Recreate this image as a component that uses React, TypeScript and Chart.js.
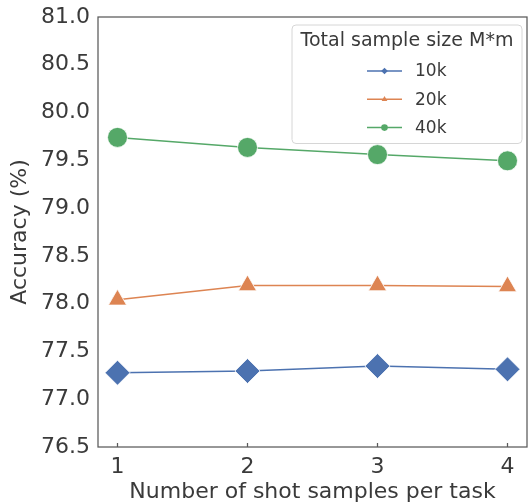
import React, { useEffect, useRef } from "react";
import { Chart, registerables } from "chart.js";
import { drawPoint } from "chart.js/helpers";

Chart.register(...registerables);

const xValues = [1, 2, 3, 4];
const xTicks = [1, 2, 3, 4];
const yTicksMin = 76.5;
const yTicksMax = 81.0;
const yStep = 0.5;

const seriesLabels = ["10k", "20k", "40k"];
const series10k = [77.277, 77.295, 77.347, 77.313];
const series20k = [78.04, 78.19, 78.19, 78.18];
const series40k = [79.74, 79.635, 79.56, 79.495];

const colors = ["#4C72B0", "#DD8452", "#55A868"];
const pointStyles = ["rectRot", "triangle", "circle"];
const pointRadii = [12.5, 10.5, 10];
const legendTitle = "Total sample size M*m";
const xTitle = "Number of shot samples per task";
const yTitle = "Accuracy (%)";

const FONT = "'DejaVu Sans', sans-serif";
const TEXT = "#3a3a3a";
const FRAME = "#5a5a5a";

export default function App() {
  const ref = useRef<HTMLCanvasElement | null>(null);

  useEffect(() => {
    document.body.style.margin = "0";
    const canvas = ref.current;
    if (!canvas) return;

    const allSeries = [series10k, series20k, series40k];

    const framePlugin = {
      id: "frame",
      beforeDatasetsDraw(chart: any) {
        const { ctx, chartArea } = chart;
        const a = chartArea;
        ctx.save();
        ctx.strokeStyle = FRAME;
        ctx.lineWidth = 1.25;
        ctx.strokeRect(a.left, a.top, a.right - a.left, a.bottom - a.top);
        const xs = chart.scales.x;
        ctx.beginPath();
        xTicks.forEach((v) => {
          const px = xs.getPixelForValue(v);
          ctx.moveTo(px, a.bottom);
          ctx.lineTo(px, a.bottom - 4);
        });
        ctx.stroke();
        ctx.restore();
      },
    };

    const legendPlugin = {
      id: "customLegend",
      afterDatasetsDraw(chart: any) {
        const { ctx } = chart;
        const left = 292, top = 25, right = 522, bottom = 143.5;
        ctx.save();
        ctx.beginPath();
        const r = 4;
        ctx.moveTo(left + r, top);
        ctx.lineTo(right - r, top);
        ctx.quadraticCurveTo(right, top, right, top + r);
        ctx.lineTo(right, bottom - r);
        ctx.quadraticCurveTo(right, bottom, right - r, bottom);
        ctx.lineTo(left + r, bottom);
        ctx.quadraticCurveTo(left, bottom, left, bottom - r);
        ctx.lineTo(left, top + r);
        ctx.quadraticCurveTo(left, top, left + r, top);
        ctx.closePath();
        ctx.fillStyle = "rgba(255,255,255,0.85)";
        ctx.fill();
        ctx.strokeStyle = "#d6d6d6";
        ctx.lineWidth = 1;
        ctx.stroke();

        ctx.fillStyle = TEXT;
        ctx.textBaseline = "middle";
        ctx.textAlign = "center";
        ctx.font = `19px ${FONT}`;
        ctx.fillText(legendTitle, (left + right) / 2, 41.5);

        chart.data.datasets.forEach((ds: any, i: number) => {
          const y = 71 + i * 28.3;
          ctx.strokeStyle = ds.borderColor;
          ctx.lineWidth = 1.5;
          ctx.beginPath();
          ctx.moveTo(367, y);
          ctx.lineTo(402, y);
          ctx.stroke();
          ctx.fillStyle = ds.borderColor;
          ctx.strokeStyle = ds.borderColor;
          drawPoint(ctx, { pointStyle: ds.pointStyle, radius: 3.3, borderWidth: 0, rotation: 0 } as any, 384.5, y);
          ctx.fillStyle = TEXT;
          ctx.textAlign = "left";
          ctx.font = `17px ${FONT}`;
          ctx.fillText(ds.label, 415, y + 1);
        });
        ctx.restore();
      },
    };

    const chart = new Chart(canvas, {
      type: "line",
      data: {
        datasets: seriesLabels.map((label, i) => ({
          label,
          data: xValues.map((x, j) => ({ x, y: allSeries[i][j] })),
          borderColor: colors[i],
          backgroundColor: colors[i],
          pointBackgroundColor: colors[i],
          pointBorderColor: "#ffffff",
          pointBorderWidth: 0.8,
          pointStyle: pointStyles[i] as any,
          pointRadius: pointRadii[i],
          borderWidth: 1.5,
          tension: 0,
          fill: false,
        })),
      },
      options: {
        responsive: false,
        animation: false,
        events: [],
        layout: { autoPadding: false, padding: { top: 17, right: 3, left: 0, bottom: 0 } },
        plugins: {
          legend: { display: false },
          tooltip: { enabled: false },
        },
        scales: {
          x: {
            type: "linear",
            min: 0.85,
            max: 4.15,
            afterBuildTicks: (scale: any) => {
              scale.ticks = xTicks.map((v) => ({ value: v }));
            },
            afterFit: (scale: any) => {
              scale.height = 57;
              scale.paddingLeft = 0;
              scale.paddingRight = 0;
            },
            grid: { display: false, drawTicks: false },
            border: { display: false },
            ticks: {
              color: TEXT,
              font: { family: FONT, size: 22 },
              padding: 7,
              maxRotation: 0,
              callback: (v: any) => String(v),
            },
            title: {
              display: true,
              text: xTitle,
              color: TEXT,
              font: { family: FONT, size: 22 },
              padding: { top: 0, bottom: -1 },
            },
          },
          y: {
            type: "linear",
            min: yTicksMin,
            max: yTicksMax,
            afterFit: (scale: any) => {
              scale.width = 98;
              scale.paddingTop = 0;
              scale.paddingBottom = 0;
            },
            grid: { display: false, drawTicks: false },
            border: { display: false },
            ticks: {
              stepSize: yStep,
              color: TEXT,
              font: { family: FONT, size: 22 },
              padding: 8,
              callback: (v: any) => Number(v).toFixed(1),
            },
            title: {
              display: true,
              text: yTitle,
              color: TEXT,
              font: { family: FONT, size: 22 },
              padding: { top: 7, bottom: 0 },
            },
          },
        },
      },
      plugins: [framePlugin, legendPlugin],
    });

    return () => chart.destroy();
  }, []);

  return (
    <div style={{ width: 530, height: 504 }}>
      <canvas ref={ref} width={530} height={504} style={{ width: 530, height: 504, display: "block" }} />
    </div>
  );
}
